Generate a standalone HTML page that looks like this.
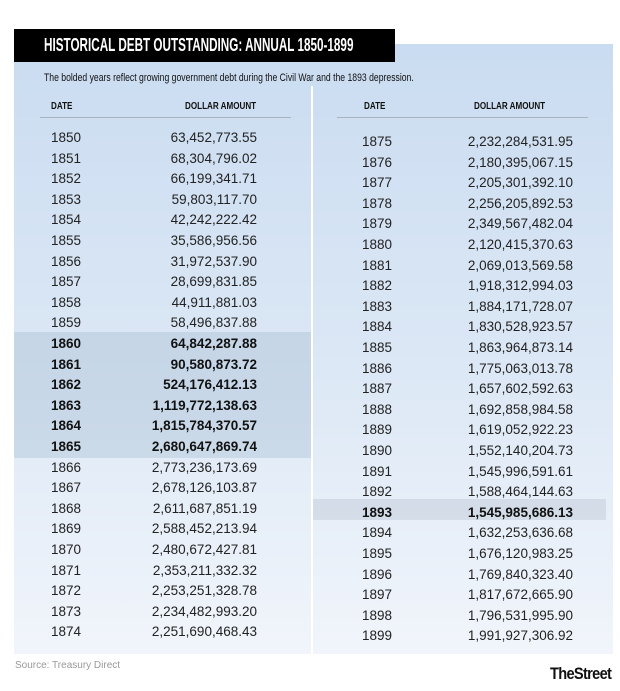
<!DOCTYPE html>
<html><head><meta charset="utf-8"><style>
body{margin:0;width:620px;height:691px;background:#fff;position:relative;overflow:hidden;font-family:"Liberation Sans",sans-serif;color:#222}
.panel{position:absolute;left:14px;top:44px;width:599px;height:610px;background:linear-gradient(#cadcf1,#dbe7f5 50%,#f1f5fb)}
.title{position:absolute;left:14px;top:29px;width:381px;height:33px;background:#000}
.tt{position:absolute;left:30px;top:0;line-height:33px;color:#fff;font-weight:bold;font-size:18px;white-space:nowrap;transform:scaleX(0.65);transform-origin:left center}
.sub{position:absolute;left:44px;top:72px;font-size:11px;color:#111;white-space:nowrap;transform:scaleX(0.785);transform-origin:left top}
.div{position:absolute;left:311px;top:86px;width:2px;height:568px;background:#fff}
.h{position:absolute;top:100px;font-size:10.5px;font-weight:bold;color:#111;white-space:nowrap;transform:scaleX(0.77);transform-origin:left top}
.line{position:absolute;top:117px;height:1px;background:#a9b4c0}
.band{position:absolute;background:rgba(150,175,200,0.3)}
.r{position:absolute;height:20.6px;line-height:20.6px;font-size:13.5px;color:#222}
.d{position:absolute;left:0}
.a{position:absolute;right:0}
.L{left:51px;width:206px}.R{left:362px;width:211px}
.b{font-weight:bold;color:#111}
.src{position:absolute;left:15px;top:660px;font-size:10px;color:#999}
.logo{position:absolute;left:550px;top:664px;font-size:17px;font-weight:bold;color:#111;letter-spacing:-0.8px;white-space:nowrap;transform:scaleX(0.86);transform-origin:left top}
</style></head><body>
<div class="panel"></div>
<div class="band" style="left:14px;top:332px;width:297px;height:126px"></div>
<div class="band" style="left:313px;top:499px;width:293px;height:21px;background:rgba(170,180,195,0.3)"></div>
<div class="div"></div>
<div class="title"><div class="tt">HISTORICAL DEBT OUTSTANDING: ANNUAL 1850-1899</div></div>
<div class="sub">The bolded years reflect growing government debt during the Civil War and the 1893 depression.</div>
<div class="h" style="left:51px">DATE</div><div class="h" style="left:185px">DOLLAR AMOUNT</div>
<div class="h" style="left:364px">DATE</div><div class="h" style="left:474px">DOLLAR AMOUNT</div>
<div class="line" style="left:40px;width:251px"></div><div class="line" style="left:337px;width:251px"></div>

<div class="r L" style="top:128px"><span class="d">1850</span><span class="a">63,452,773.55</span></div>
<div class="r L" style="top:148.6px"><span class="d">1851</span><span class="a">68,304,796.02</span></div>
<div class="r L" style="top:169.2px"><span class="d">1852</span><span class="a">66,199,341.71</span></div>
<div class="r L" style="top:189.8px"><span class="d">1853</span><span class="a">59,803,117.70</span></div>
<div class="r L" style="top:210.4px"><span class="d">1854</span><span class="a">42,242,222.42</span></div>
<div class="r L" style="top:231px"><span class="d">1855</span><span class="a">35,586,956.56</span></div>
<div class="r L" style="top:251.6px"><span class="d">1856</span><span class="a">31,972,537.90</span></div>
<div class="r L" style="top:272.2px"><span class="d">1857</span><span class="a">28,699,831.85</span></div>
<div class="r L" style="top:292.8px"><span class="d">1858</span><span class="a">44,911,881.03</span></div>
<div class="r L" style="top:313.4px"><span class="d">1859</span><span class="a">58,496,837.88</span></div>
<div class="r L b" style="top:334px"><span class="d">1860</span><span class="a">64,842,287.88</span></div>
<div class="r L b" style="top:354.6px"><span class="d">1861</span><span class="a">90,580,873.72</span></div>
<div class="r L b" style="top:375.2px"><span class="d">1862</span><span class="a">524,176,412.13</span></div>
<div class="r L b" style="top:395.8px"><span class="d">1863</span><span class="a">1,119,772,138.63</span></div>
<div class="r L b" style="top:416.4px"><span class="d">1864</span><span class="a">1,815,784,370.57</span></div>
<div class="r L b" style="top:437px"><span class="d">1865</span><span class="a">2,680,647,869.74</span></div>
<div class="r L" style="top:457.6px"><span class="d">1866</span><span class="a">2,773,236,173.69</span></div>
<div class="r L" style="top:478.2px"><span class="d">1867</span><span class="a">2,678,126,103.87</span></div>
<div class="r L" style="top:498.8px"><span class="d">1868</span><span class="a">2,611,687,851.19</span></div>
<div class="r L" style="top:519.4px"><span class="d">1869</span><span class="a">2,588,452,213.94</span></div>
<div class="r L" style="top:540px"><span class="d">1870</span><span class="a">2,480,672,427.81</span></div>
<div class="r L" style="top:560.6px"><span class="d">1871</span><span class="a">2,353,211,332.32</span></div>
<div class="r L" style="top:581.2px"><span class="d">1872</span><span class="a">2,253,251,328.78</span></div>
<div class="r L" style="top:601.8px"><span class="d">1873</span><span class="a">2,234,482,993.20</span></div>
<div class="r L" style="top:622.4px"><span class="d">1874</span><span class="a">2,251,690,468.43</span></div>

<div class="r R" style="top:132px"><span class="d">1875</span><span class="a">2,232,284,531.95</span></div>
<div class="r R" style="top:152.6px"><span class="d">1876</span><span class="a">2,180,395,067.15</span></div>
<div class="r R" style="top:173.2px"><span class="d">1877</span><span class="a">2,205,301,392.10</span></div>
<div class="r R" style="top:193.8px"><span class="d">1878</span><span class="a">2,256,205,892.53</span></div>
<div class="r R" style="top:214.4px"><span class="d">1879</span><span class="a">2,349,567,482.04</span></div>
<div class="r R" style="top:235px"><span class="d">1880</span><span class="a">2,120,415,370.63</span></div>
<div class="r R" style="top:255.6px"><span class="d">1881</span><span class="a">2,069,013,569.58</span></div>
<div class="r R" style="top:276.2px"><span class="d">1882</span><span class="a">1,918,312,994.03</span></div>
<div class="r R" style="top:296.8px"><span class="d">1883</span><span class="a">1,884,171,728.07</span></div>
<div class="r R" style="top:317.4px"><span class="d">1884</span><span class="a">1,830,528,923.57</span></div>
<div class="r R" style="top:338px"><span class="d">1885</span><span class="a">1,863,964,873.14</span></div>
<div class="r R" style="top:358.6px"><span class="d">1886</span><span class="a">1,775,063,013.78</span></div>
<div class="r R" style="top:379.2px"><span class="d">1887</span><span class="a">1,657,602,592.63</span></div>
<div class="r R" style="top:399.8px"><span class="d">1888</span><span class="a">1,692,858,984.58</span></div>
<div class="r R" style="top:420.4px"><span class="d">1889</span><span class="a">1,619,052,922.23</span></div>
<div class="r R" style="top:441px"><span class="d">1890</span><span class="a">1,552,140,204.73</span></div>
<div class="r R" style="top:461.6px"><span class="d">1891</span><span class="a">1,545,996,591.61</span></div>
<div class="r R" style="top:482.2px"><span class="d">1892</span><span class="a">1,588,464,144.63</span></div>
<div class="r R b" style="top:502.8px"><span class="d">1893</span><span class="a">1,545,985,686.13</span></div>
<div class="r R" style="top:523.4px"><span class="d">1894</span><span class="a">1,632,253,636.68</span></div>
<div class="r R" style="top:544px"><span class="d">1895</span><span class="a">1,676,120,983.25</span></div>
<div class="r R" style="top:564.6px"><span class="d">1896</span><span class="a">1,769,840,323.40</span></div>
<div class="r R" style="top:585.2px"><span class="d">1897</span><span class="a">1,817,672,665.90</span></div>
<div class="r R" style="top:605.8px"><span class="d">1898</span><span class="a">1,796,531,995.90</span></div>
<div class="r R" style="top:626.4px"><span class="d">1899</span><span class="a">1,991,927,306.92</span></div>

<div class="src">Source: Treasury Direct</div>
<div class="logo">TheStreet</div>
</body></html>
